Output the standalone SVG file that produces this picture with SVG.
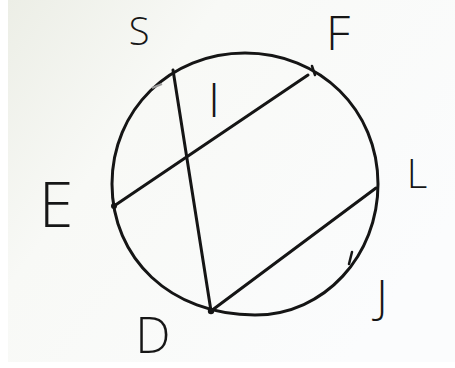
<svg xmlns="http://www.w3.org/2000/svg" width="455" height="368" viewBox="0 0 455 368">
<defs>
<linearGradient id="bg" x1="0" y1="0" x2="1" y2="0.6">
<stop offset="0" stop-color="#eceee6"/>
<stop offset="0.35" stop-color="#f8f9f6"/>
<stop offset="1" stop-color="#fbfcfd"/>
</linearGradient>
<style>
.ln{stroke:#151515;stroke-width:3;fill:none;stroke-linecap:round}
.lb{font-family:"Open Sans","Liberation Sans",sans-serif;font-weight:300;fill:#161616;text-anchor:middle}
.dot{fill:#151515}
</style>
</defs>
<rect width="455" height="368" fill="#ffffff"/>
<rect x="8" y="0" width="447" height="362" fill="url(#bg)"/>
<g id="circle">
<path class="ln" d="M245,53 C320,53 378,110 378,184 C378,255 325,315 255,315 C170,315 112,258 112,184 C112,110 170,53 245,53 Z"/>
</g>
<g id="connectors">
<line class="ln" x1="173" y1="70" x2="211" y2="311"/>
<line class="ln" x1="114" y1="206" x2="308" y2="75"/>
<line class="ln" x1="211" y1="311" x2="376" y2="188"/>
<line class="ln" x1="312" y1="66" x2="315" y2="75" style="stroke-width:2.5"/>
<line class="ln" x1="352" y1="252" x2="349" y2="264" style="stroke-width:2.5"/>
<line x1="152" y1="88" x2="162" y2="84" stroke="#9a9a9a" stroke-width="2"/>
<circle class="dot" cx="114" cy="206" r="3"/>
<circle class="dot" cx="211" cy="311" r="3.2"/>
</g>
<g id="S"><text class="lb" x="139" y="45" font-size="38">S</text></g>
<g id="F"><text class="lb" x="338" y="50" font-size="48">F</text></g>
<g id="I"><text class="lb" x="214" y="117" font-size="48">I</text></g>
<g id="E"><text class="lb" x="56" y="227" font-size="62">E</text></g>
<g id="L"><text class="lb" x="417" y="188" font-size="40">L</text></g>
<g id="J"><text class="lb" x="382" y="313" font-size="46">J</text></g>
<g id="D"><text class="lb" x="153" y="353" font-size="50">D</text></g>
</svg>
